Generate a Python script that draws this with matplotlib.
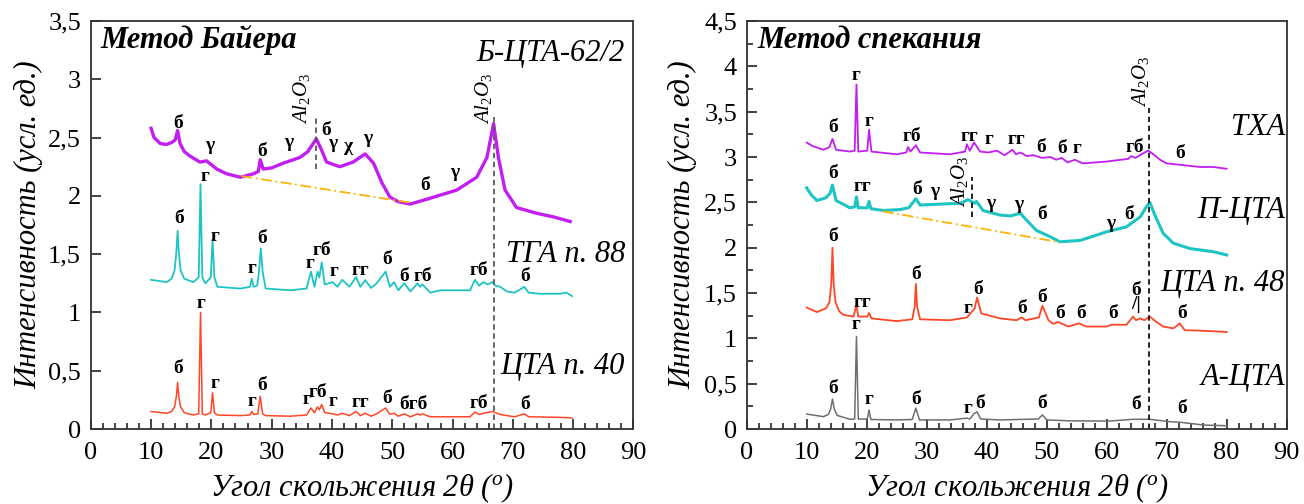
import matplotlib
matplotlib.use("Agg")
import matplotlib.pyplot as plt
from matplotlib.ticker import MultipleLocator, FuncFormatter

plt.rcParams["font.family"] = ["Liberation Serif", "DejaVu Serif"]
plt.rcParams["mathtext.fontset"] = "custom"
plt.rcParams["mathtext.rm"] = "Liberation Serif"
plt.rcParams["mathtext.it"] = "Liberation Serif:italic"

# Diffraction patterns, (2theta, intensity) pairs read point by point
bayer_b622 = [(10.0, 2.58), (10.5, 2.50), (11.5, 2.45), (12.5, 2.44), (13.5, 2.46),
              (14.0, 2.48), (14.4, 2.56), (14.8, 2.45), (15.5, 2.38), (16.5, 2.34),
              (18.1, 2.29), (19.2, 2.30), (20.9, 2.23), (22.5, 2.19), (24.8, 2.16),
              (27.0, 2.19), (27.8, 2.21), (28.1, 2.31), (28.6, 2.23), (30.0, 2.24),
              (31.9, 2.28), (34.7, 2.33), (36.0, 2.38), (37.4, 2.49), (38.3, 2.39),
              (39.1, 2.29), (41.3, 2.25), (43.5, 2.29), (45.5, 2.36), (46.9, 2.28),
              (48.3, 2.11), (49.6, 1.99), (51.0, 1.95), (53.0, 1.93), (56.3, 1.98),
              (60.7, 2.05), (64.0, 2.16), (65.7, 2.33), (66.8, 2.62), (67.6, 2.33),
              (68.7, 2.05), (70.6, 1.90), (74.0, 1.85), (76.7, 1.82), (79.5, 1.78)]

bayer_tga88 = [(10.0, 1.28), (12.6, 1.26), (13.4, 1.29), (13.9, 1.36), (14.2, 1.52),
               (14.4, 1.70), (14.6, 1.52), (14.9, 1.36), (15.5, 1.29), (17.0, 1.26),
               (17.9, 1.30), (18.2, 2.10), (18.5, 1.30), (19.0, 1.25), (19.9, 1.30),
               (20.2, 1.63), (20.5, 1.30), (21.0, 1.22), (24.8, 1.205), (26.4, 1.22),
               (26.7, 1.29), (27.0, 1.22), (27.6, 1.23), (27.9, 1.35), (28.2, 1.55),
               (28.5, 1.35), (29.0, 1.205), (33.1, 1.19), (35.8, 1.205), (36.5, 1.35),
               (37.1, 1.22), (37.6, 1.35), (37.9, 1.30), (38.3, 1.43), (38.8, 1.24),
               (40.1, 1.26), (40.9, 1.22), (41.7, 1.28), (42.9, 1.22), (44.0, 1.305),
               (44.7, 1.22), (45.5, 1.277), (46.5, 1.21), (47.4, 1.25), (48.9, 1.35),
               (49.6, 1.22), (50.3, 1.26), (51.0, 1.19), (52.0, 1.25), (53.0, 1.18),
               (54.2, 1.25), (54.6, 1.22), (55.0, 1.24), (56.3, 1.17), (58.0, 1.19),
               (60.1, 1.19), (62.9, 1.19), (63.7, 1.28), (64.4, 1.23), (65.1, 1.26),
               (65.8, 1.24), (66.6, 1.26), (67.1, 1.23), (67.9, 1.22), (69.0, 1.18),
               (70.3, 1.17), (71.9, 1.22), (72.6, 1.17), (74.5, 1.16), (77.8, 1.16),
               (78.9, 1.17), (79.8, 1.14)]

bayer_cta40 = [(10.0, 0.15), (12.6, 0.135), (13.4, 0.15), (13.9, 0.19), (14.2, 0.28),
               (14.4, 0.40), (14.6, 0.28), (14.9, 0.19), (15.5, 0.14), (17.0, 0.12),
               (17.9, 0.13), (18.2, 1.00), (18.5, 0.13), (19.0, 0.12), (19.9, 0.14),
               (20.2, 0.31), (20.5, 0.14), (21.0, 0.12), (24.8, 0.115), (26.4, 0.12),
               (26.7, 0.15), (27.0, 0.125), (27.7, 0.13), (28.1, 0.28), (28.5, 0.13),
               (29.0, 0.115), (33.1, 0.11), (35.8, 0.12), (36.5, 0.18), (37.1, 0.14),
               (37.6, 0.19), (37.9, 0.165), (38.3, 0.21), (38.8, 0.14), (40.1, 0.13),
               (40.9, 0.12), (41.7, 0.135), (42.9, 0.115), (44.0, 0.15), (44.7, 0.115),
               (45.5, 0.135), (46.5, 0.11), (47.4, 0.13), (48.9, 0.18), (49.6, 0.125),
               (50.3, 0.135), (51.0, 0.11), (52.0, 0.13), (53.0, 0.105), (54.2, 0.13),
               (54.6, 0.12), (55.0, 0.13), (56.3, 0.105), (60.1, 0.105), (62.9, 0.105),
               (63.7, 0.145), (64.4, 0.125), (65.1, 0.135), (66.6, 0.15), (67.1, 0.14),
               (67.9, 0.125), (69.0, 0.115), (70.3, 0.105), (71.9, 0.13), (72.6, 0.105),
               (77.8, 0.10), (79.8, 0.095)]

sint_txa = [(10.0, 3.16), (11.0, 3.12), (12.8, 3.08), (13.8, 3.11), (14.3, 3.20),
            (14.9, 3.08), (17.2, 3.06), (18.0, 3.07), (18.3, 3.80), (18.6, 3.06),
            (20.1, 3.07), (20.4, 3.30), (20.8, 3.06), (25.0, 3.03), (26.6, 3.05),
            (26.9, 3.11), (27.3, 3.06), (28.2, 3.13), (28.9, 3.05), (33.9, 3.03),
            (36.4, 3.06), (36.7, 3.14), (37.2, 3.07), (37.9, 3.16), (38.9, 3.06),
            (40.3, 3.05), (41.7, 3.07), (43.0, 3.02), (44.3, 3.08), (44.9, 3.03),
            (45.6, 3.05), (46.7, 3.01), (47.8, 3.02), (49.2, 2.99), (50.6, 3.00),
            (51.6, 2.97), (52.5, 2.99), (53.5, 2.94), (54.7, 2.97), (56.0, 2.93),
            (60.0, 2.95), (63.6, 2.98), (64.1, 3.01), (64.8, 2.99), (65.8, 3.03),
            (66.9, 3.07), (67.8, 3.03), (68.9, 2.97), (70.0, 2.93), (72.8, 2.91),
            (75.6, 2.89), (77.8, 2.89), (80.0, 2.87)]

sint_pcta = [(10.0, 2.66), (10.8, 2.58), (11.7, 2.52), (13.2, 2.55), (13.9, 2.60),
             (14.3, 2.69), (14.9, 2.52), (17.2, 2.44), (18.0, 2.45), (18.3, 2.56),
             (18.6, 2.44), (20.1, 2.44), (20.4, 2.51), (20.7, 2.43), (22.8, 2.41),
             (25.5, 2.42), (27.0, 2.44), (28.2, 2.54), (28.9, 2.47), (32.2, 2.48),
             (35.6, 2.49), (36.9, 2.53), (38.0, 2.49), (38.3, 2.51), (39.4, 2.41),
             (42.2, 2.36), (44.0, 2.35), (45.6, 2.38), (46.7, 2.30), (48.3, 2.19),
             (50.6, 2.12), (52.2, 2.065), (55.6, 2.08), (60.0, 2.175), (63.3, 2.23),
             (65.6, 2.34), (66.6, 2.45), (67.2, 2.50), (67.9, 2.38), (69.4, 2.16),
             (71.1, 2.05), (73.9, 1.99), (77.8, 1.955), (80.0, 1.92)]

sint_cta48 = [(10.0, 1.34), (11.7, 1.29), (13.2, 1.33), (13.8, 1.40), (14.1, 1.60),
              (14.3, 2.00), (14.5, 1.60), (14.8, 1.40), (15.4, 1.30), (16.1, 1.26),
              (17.8, 1.24), (18.3, 1.37), (18.6, 1.24), (20.1, 1.24), (20.4, 1.28),
              (20.8, 1.22), (25.0, 1.19), (27.6, 1.21), (28.0, 1.35), (28.2, 1.60),
              (28.4, 1.35), (28.9, 1.21), (33.9, 1.20), (36.7, 1.23), (38.0, 1.33),
              (38.4, 1.45), (39.1, 1.275), (42.2, 1.22), (45.0, 1.20), (45.8, 1.23),
              (46.5, 1.20), (48.7, 1.23), (49.3, 1.36), (50.3, 1.20), (51.1, 1.16),
              (51.9, 1.18), (53.6, 1.13), (55.4, 1.165), (56.6, 1.13), (60.0, 1.13),
              (60.8, 1.15), (63.3, 1.15), (64.4, 1.24), (64.9, 1.20), (65.6, 1.22),
              (66.3, 1.20), (67.2, 1.24), (67.9, 1.20), (69.4, 1.13), (71.1, 1.11),
              (72.2, 1.165), (73.0, 1.09), (75.6, 1.085), (80.0, 1.07)]

sint_acta = [(10.0, 0.165), (12.8, 0.136), (13.6, 0.16), (14.0, 0.22), (14.3, 0.33),
             (14.6, 0.22), (15.1, 0.15), (17.2, 0.107), (18.0, 0.11), (18.3, 1.02),
             (18.6, 0.11), (20.1, 0.11), (20.4, 0.21), (20.7, 0.105), (25.0, 0.10),
             (27.6, 0.105), (28.2, 0.23), (28.8, 0.10), (33.9, 0.10), (36.7, 0.12),
             (37.2, 0.11), (37.9, 0.17), (38.4, 0.19), (39.0, 0.11), (42.2, 0.10),
             (48.6, 0.11), (49.3, 0.155), (50.0, 0.10), (53.9, 0.09), (60.5, 0.088),
             (64.4, 0.107), (67.2, 0.107), (70.6, 0.08), (72.2, 0.075), (76.1, 0.044),
             (80.0, 0.036)]

# Phase marks: (2theta, height, text)
bayer_marks = [(14.5, 2.62, "б"), (19.8, 2.43, "γ"), (28.4, 2.38, "б"), (32.9, 2.46, "γ"),
               (39.0, 2.56, "б"), (40.2, 2.45, "γ"), (42.7, 2.42, "χ"), (45.9, 2.49, "γ"),
               (55.4, 2.09, "б"), (60.4, 2.20, "γ"),
               (14.7, 1.81, "б"), (19.0, 2.17, "г"), (20.6, 1.65, "г"), (26.8, 1.38, "г"),
               (28.4, 1.63, "б"), (36.3, 1.42, "г"), (38.3, 1.53, "гб"), (40.3, 1.35, "г"),
               (44.7, 1.36, "гг"), (49.2, 1.45, "б"), (52.0, 1.31, "б"), (55.1, 1.31, "гб"),
               (64.4, 1.36, "гб"), (72.1, 1.31, "б"),
               (14.5, 0.52, "б"), (18.3, 1.08, "г"), (20.6, 0.39, "г"), (26.7, 0.234, "г"),
               (28.4, 0.377, "б"), (35.8, 0.254, "г"), (37.7, 0.31, "гб"), (40.2, 0.234, "г"),
               (44.7, 0.225, "гг"), (49.2, 0.26, "б"), (53.5, 0.206, "бгб"),
               (64.4, 0.22, "гб"), (72.1, 0.206, "б")]

sint_marks = [(14.4, 3.33, "б"), (18.3, 3.90, "г"), (20.4, 3.39, "г"), (27.5, 3.23, "гб"),
              (37.2, 3.23, "гг"), (40.4, 3.19, "г"), (44.9, 3.19, "гг"), (49.0, 3.11, "б"),
              (52.5, 3.09, "б"), (55.1, 3.09, "г"), (64.7, 3.11, "гб"), (72.2, 3.04, "б"),
              (14.4, 2.82, "б"), (19.3, 2.67, "гг"), (28.4, 2.64, "б"), (31.4, 2.62, "γ"),
              (40.7, 2.49, "γ"), (45.3, 2.48, "γ"), (49.2, 2.37, "б"), (60.6, 2.27, "γ"),
              (63.8, 2.37, "б"),
              (14.4, 2.12, "б"), (19.3, 1.40, "гг"), (28.3, 1.70, "б"), (36.9, 1.33, "г"),
              (38.6, 1.54, "б"), (45.9, 1.33, "б"), (49.2, 1.45, "б"), (52.3, 1.275, "б"),
              (55.7, 1.275, "б"), (61.0, 1.275, "б"), (64.9, 1.53, "б"), (64.9, 1.37, "/|"),
              (72.5, 1.275, "б"),
              (14.4, 0.45, "б"), (18.3, 1.15, "г"), (20.4, 0.32, "г"), (28.3, 0.32, "б"),
              (36.9, 0.23, "г"), (38.9, 0.28, "б"), (49.2, 0.28, "б"), (64.9, 0.265, "б"),
              (72.5, 0.23, "б")]

# Al2O3 reflections: (2theta, line bottom, line top, label x, label bottom)
bayer_al2o3 = [(37.3, 2.23, 2.68, 35.0, 2.62), (66.8, 0.0, 2.68, 65.1, 2.62)]
sint_al2o3 = [(37.5, 2.34, 2.78, 35.4, 2.45), (67.1, 0.0, 3.54, 65.6, 3.55)]

# Amorphous background guides
bayer_bg_x = [25.0, 53.2]
bayer_bg_y = [2.17, 1.94]
sint_bg_x = [22.7, 52.2]
sint_bg_y = [2.40, 2.06]

bayer_names = [("Б-ЦТА-62/2", 3.22), ("ТГА п. 88", 1.50), ("ЦТА п. 40", 0.54)]
sint_names = [("ТХА", 3.33), ("П-ЦТА", 2.41), ("ЦТА п. 48", 1.60), ("А-ЦТА", 0.57)]

PURPLE = "#C21DF2"
CYAN = "#1EC4C4"
RED = "#FF4626"
GRAY = "#6E6E6E"
ORANGE = "#FFB300"


def comma_fmt(v, pos):
    return f"{v:g}".replace(".", ",")


def setup_axes(ax, ymax, minor_y):
    ax.set_xlim(0, 90)
    ax.set_ylim(0, ymax)
    ax.xaxis.set_major_locator(MultipleLocator(10))
    ax.xaxis.set_minor_locator(MultipleLocator(2))
    ax.yaxis.set_major_locator(MultipleLocator(0.5))
    if minor_y:
        ax.yaxis.set_minor_locator(MultipleLocator(0.25))
    ax.yaxis.set_major_formatter(FuncFormatter(comma_fmt))
    ax.tick_params(which="both", direction="in", top=False, right=False,
                   labelsize=19, width=1.2, color="#222222")
    ax.tick_params(which="major", length=7.5)
    ax.tick_params(which="minor", length=4)
    ax.tick_params(axis="x", pad=9)
    ax.tick_params(axis="y", pad=7)
    for sp in ax.spines.values():
        sp.set_linewidth(1.3)
        sp.set_color("#333333")
    ax.set_xlabel("Угол скольжения 2θ ($^o$)", fontsize=22, style="italic")
    ax.set_ylabel("Интенсивность (усл. ед.)", fontsize=22, style="italic")
    ax.xaxis.set_label_coords(0.5, -0.105)


def draw_pattern(ax, pts, color, lw):
    xs = [p[0] for p in pts]
    ys = [p[1] for p in pts]
    ax.plot(xs, ys, color=color, lw=lw, solid_joinstyle="round")


def draw_marks(ax, marks):
    for x, y, s in marks:
        ax.text(x, y, s, ha="center", va="center", fontsize=14, fontweight="bold")


fig = plt.figure(figsize=(13.04, 5.04), dpi=100)
ax1 = fig.add_axes([0.0696, 0.1488, 0.4162, 0.8095])
ax2 = fig.add_axes([0.5726, 0.1488, 0.4141, 0.8095])

# Bayer process samples
setup_axes(ax1, 3.5, False)
ax1.yaxis.set_label_coords(-0.088, 0.5)
draw_pattern(ax1, bayer_b622, PURPLE, 2.4)
draw_pattern(ax1, bayer_tga88, CYAN, 1.3)
draw_pattern(ax1, bayer_cta40, RED, 1.1)
ax1.plot(bayer_bg_x, bayer_bg_y, color=ORANGE, lw=1.3, ls=(0, (6, 2, 1, 2)))
for x, y0, y1, lx, ly in bayer_al2o3:
    ax1.plot([x, x], [y0, y1], color="#5A5A5A", lw=1.3, ls=(0, (3, 2)))
    ax1.text(lx, ly, "$Al_2O_3$", rotation=90, ha="center", va="bottom", fontsize=15)
draw_marks(ax1, bayer_marks)
for name, y in bayer_names:
    ax1.text(88.6, y, name, ha="right", va="center", fontsize=22, style="italic")
ax1.text(0.017, 0.953, "Метод Байера", transform=ax1.transAxes, ha="left", va="center",
         fontsize=22, fontweight="bold", style="italic")

# Sintering process samples
setup_axes(ax2, 4.5, True)
ax2.yaxis.set_label_coords(-0.092, 0.5)
draw_pattern(ax2, sint_txa, PURPLE, 1.3)
draw_pattern(ax2, sint_pcta, CYAN, 2.2)
draw_pattern(ax2, sint_cta48, RED, 1.3)
draw_pattern(ax2, sint_acta, GRAY, 1.1)
ax2.plot(sint_bg_x, sint_bg_y, color=ORANGE, lw=1.3, ls=(0, (6, 2, 1, 2)))
for x, y0, y1, lx, ly in sint_al2o3:
    ax2.plot([x, x], [y0, y1], color="#111111", lw=1.3, ls=(0, (3, 2)))
    ax2.text(lx, ly, "$Al_2O_3$", rotation=90, ha="center", va="bottom", fontsize=15)
draw_marks(ax2, sint_marks)
for name, y in sint_names:
    ax2.text(89.7, y, name, ha="right", va="center", fontsize=22, style="italic")
ax2.text(0.019, 0.953, "Метод спекания", transform=ax2.transAxes, ha="left", va="center",
         fontsize=22, fontweight="bold", style="italic")

fig.savefig("out.png", dpi=100)
